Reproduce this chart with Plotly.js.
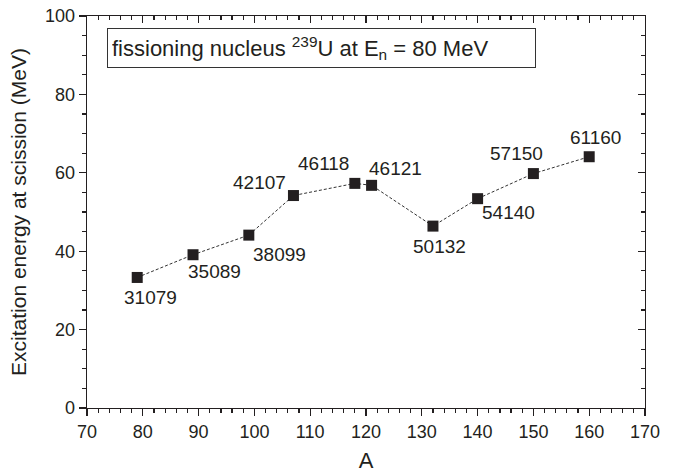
<!DOCTYPE html>
<html>
<head>
<meta charset="utf-8">
<script src="https://cdn.plot.ly/plotly-3.0.1.min.js"></script>
<style>html,body{margin:0;padding:0;background:#fff;}#chart{width:676px;height:473px;}</style>
</head>
<body>
<div id="chart"></div>
<script>
// Data
const massA = [79, 89, 99, 107, 118, 121, 132, 140, 150, 160];
const excitation = [33.3, 39.1, 44.1, 54.2, 57.3, 56.8, 46.4, 53.4, 59.8, 64.1];
const nucleusLabels = ['31079', '35089', '38099', '42107', '46118', '46121', '50132', '54140', '57150', '61160'];
const xTickVals = [70, 80, 90, 100, 110, 120, 130, 140, 150, 160, 170];
const yTickVals = [0, 20, 40, 60, 80, 100];
// Label offsets in pixels (dx, dy downwards)
const labelDx = [13, 21, 31, -34, -31, 24, 7, 31, -17, 6];
const labelDy = [20, 17, 19, -13, -20, -17, 20, 14, -20, -19];

const ink = '#231f20';
const fontFam = '"Liberation Sans", Arial, Helvetica, sans-serif';

const trace = {
  x: massA, y: excitation, type: 'scatter', mode: 'lines+markers',
  line: {color: '#333333', width: 1, dash: '3px,2px'},
  marker: {symbol: 'square', size: 11, color: ink, line: {width: 0}},
  hoverinfo: 'skip', showlegend: false
};
const ghost = {
  x: massA, y: excitation, type: 'scatter', mode: 'markers', xaxis: 'x2', yaxis: 'y2',
  marker: {opacity: 0}, hoverinfo: 'skip', showlegend: false
};

const annotations = nucleusLabels.map((t, i) => ({
  x: massA[i], y: excitation[i], xref: 'x', yref: 'y', text: t, showarrow: false,
  xshift: labelDx[i], yshift: -labelDy[i], font: {family: fontFam, size: 19, color: ink}
}));
annotations.push({
  xref: 'paper', yref: 'paper', x: 0.0358, y: 0.969, xanchor: 'left', yanchor: 'top',
  text: 'fissioning nucleus <sup>239</sup>U at E<sub>n</sub> = 80 MeV',
  showarrow: false, align: 'left', valign: 'middle', width: 419, height: 30,
  bordercolor: '#333333', borderwidth: 1, borderpad: 4,
  font: {family: fontFam, size: 22, color: ink}
});

const axCommon = {
  showgrid: false, zeroline: false, showline: true, linecolor: ink, linewidth: 1.3,
  tickcolor: ink, tickwidth: 1.3, ticklen: 7,
  tickfont: {family: fontFam, size: 18, color: ink}
};

const layout = {
  width: 676, height: 473,
  margin: {l: 87, r: 31, t: 16, b: 65, pad: 0},
  paper_bgcolor: '#ffffff', plot_bgcolor: '#ffffff',
  font: {family: fontFam, color: ink},
  xaxis: Object.assign({}, axCommon, {
    range: [70, 170], tickmode: 'array', tickvals: xTickVals, ticks: 'outside',
    minor: {dtick: 2, tick0: 70, ticks: 'outside', ticklen: 4, tickcolor: ink, tickwidth: 1.2},
    title: {text: 'A', font: {family: fontFam, size: 22, color: ink}, standoff: 14}
  }),
  yaxis: Object.assign({}, axCommon, {
    range: [0, 100], tickmode: 'array', tickvals: yTickVals, ticks: 'outside',
    minor: {dtick: 5, tick0: 0, ticks: 'outside', ticklen: 4, tickcolor: ink, tickwidth: 1.2},
    title: {text: 'Excitation energy at scission (MeV)', font: {family: fontFam, size: 21, color: ink}, standoff: 12}
  }),
  xaxis2: Object.assign({}, axCommon, {
    overlaying: 'x', side: 'top', anchor: 'y2', range: [70, 170], tickmode: 'array', tickvals: xTickVals,
    ticks: 'inside', showticklabels: false,
    minor: {dtick: 2, tick0: 70, ticks: 'inside', ticklen: 4, tickcolor: ink, tickwidth: 1.2}
  }),
  yaxis2: Object.assign({}, axCommon, {
    overlaying: 'y', side: 'right', anchor: 'x2', range: [0, 100], tickmode: 'array', tickvals: yTickVals,
    ticks: 'inside', showticklabels: false,
    minor: {dtick: 5, tick0: 0, ticks: 'inside', ticklen: 4, tickcolor: ink, tickwidth: 1.2}
  }),
  annotations: annotations,
  showlegend: false
};

Plotly.newPlot('chart', [ghost, trace], layout, {staticPlot: true, displayModeBar: false});
</script>
</body>
</html>
